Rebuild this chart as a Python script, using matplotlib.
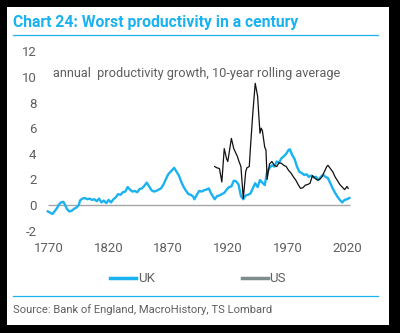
import matplotlib
matplotlib.use("Agg")
import matplotlib.pyplot as plt
from matplotlib.patches import Rectangle
from matplotlib.lines import Line2D

plt.rcParams['font.family'] = ['Roboto', 'DejaVu Sans']
plt.rcParams['axes.unicode_minus'] = False

# UK: annual productivity growth, 10-year rolling average
uk_years = [1769, 1771, 1773, 1775, 1777, 1778, 1780, 1782, 1783, 1785, 1787, 1789,
            1791, 1793, 1795, 1796, 1798, 1800, 1802, 1804, 1806, 1808, 1810, 1812,
            1814, 1816, 1818, 1820, 1822, 1824, 1826, 1828, 1830, 1832, 1834, 1836,
            1838, 1840, 1842, 1844, 1846, 1848, 1850, 1852, 1854, 1856, 1858, 1860,
            1862, 1864, 1866, 1868, 1870, 1872, 1874, 1875, 1877, 1879, 1881, 1883,
            1885, 1887, 1889, 1891, 1892, 1894, 1896, 1898, 1900, 1902, 1904, 1906,
            1908, 1909, 1911, 1913, 1915, 1917, 1919, 1921, 1923, 1925, 1927, 1929,
            1931, 1933, 1935, 1937, 1939, 1941, 1943, 1945, 1947, 1949, 1951, 1953,
            1955, 1957, 1959, 1961, 1963, 1965, 1967, 1969, 1971, 1972, 1974, 1976,
            1978, 1980, 1982, 1984, 1986, 1988, 1990, 1992, 1994, 1996, 1998, 2000,
            2002, 2004, 2006, 2008, 2010, 2012, 2014, 2016, 2018, 2020, 2022]
uk_vals = [-0.5, -0.6, -0.7, -0.45, -0.2, 0.0, 0.2, 0.25, 0.1, -0.3, -0.5, -0.45,
           -0.3, -0.2, 0.0, 0.35, 0.5, 0.55, 0.45, 0.5, 0.4, 0.45, 0.3, 0.5,
           0.2, 0.35, 0.15, 0.4, 0.2, 0.45, 0.6, 0.85, 0.8, 1.0, 1.05, 1.4,
           1.2, 1.05, 1.1, 1.0, 1.25, 1.3, 1.5, 1.75, 1.45, 1.15, 1.05, 1.1,
           1.2, 1.3, 1.6, 2.0, 2.4, 2.6, 2.8, 2.9, 2.6, 2.3, 1.8, 1.4,
           1.1, 0.85, 0.8, 0.65, 0.45, 0.8, 1.1, 1.05, 1.15, 1.2, 1.3, 0.9,
           0.6, 0.45, 0.7, 0.75, 0.85, 0.95, 1.2, 1.4, 1.45, 1.9, 1.85, 1.6,
           0.7, 0.45, 0.75, 0.8, 0.9, 1.3, 1.7, 1.4, 1.95, 1.75, 1.55, 2.6,
           2.9, 3.1, 3.0, 3.4, 3.3, 3.65, 3.8, 4.0, 4.3, 4.35, 3.9, 3.6,
           3.0, 2.6, 2.5, 2.35, 2.4, 2.2, 2.3, 2.15, 2.2, 1.95, 2.2, 2.35,
           2.2, 2.1, 1.7, 1.3, 0.95, 0.65, 0.4, 0.2, 0.4, 0.45, 0.55]

# US
us_years = [1909, 1911, 1913, 1915, 1917, 1919, 1920, 1922, 1923, 1925, 1926, 1928,
            1929, 1931, 1933, 1935, 1936, 1938, 1939, 1941, 1943, 1945, 1946, 1947,
            1948, 1949, 1951, 1952, 1953, 1955, 1957, 1959, 1961, 1963, 1965, 1967,
            1969, 1971, 1973, 1975, 1977, 1979, 1981, 1983, 1985, 1987, 1989, 1991,
            1993, 1995, 1997, 1999, 2001, 2003, 2004, 2006, 2008, 2010, 2012, 2014,
            2016, 2018, 2020, 2021]
us_vals = [3.0, 2.9, 2.85, 1.8, 4.4, 3.6, 3.4, 4.6, 5.2, 4.4, 4.2, 3.8,
           3.5, 3.0, 0.5, 2.6, 2.9, 3.0, 4.5, 7.2, 9.5, 8.5, 7.0, 5.6,
           6.0, 5.8, 4.5, 4.3, 2.0, 3.2, 3.4, 3.1, 3.0, 3.3, 3.25, 3.1,
           3.0, 2.7, 2.5, 2.2, 1.95, 1.6, 1.3, 1.35, 1.55, 1.6, 1.7, 2.3,
           2.1, 1.95, 2.0, 2.2, 2.6, 3.0, 3.1, 2.85, 2.6, 2.2, 1.9, 1.6,
           1.4, 1.2, 1.45, 1.3]

x_ticks = [1770, 1820, 1870, 1920, 1970, 2020]
y_ticks = [-2, 0, 2, 4, 6, 8, 10, 12]

BLUE = '#1AB2F0'
GREY = '#5f5f5f'

W, H = 400, 333
fig = plt.figure(figsize=(4, 3.33), dpi=100)
fig.patch.set_facecolor('black')
fig.add_artist(Rectangle((7 / W, 1 - 325 / H), 382 / W, 318 / H, zorder=-5,
                         transform=fig.transFigure, facecolor='white', edgecolor='none'))

# title + rules
fig.text(13 / W, 1 - 22 / H, 'Chart 24: Worst productivity in a century', color=BLUE,
         fontsize=11.35, fontweight='bold', va='center', ha='left')
fig.add_artist(Line2D([13 / W, 378 / W], [1 - 35 / H, 1 - 35 / H], color=BLUE, lw=0.9))
fig.add_artist(Line2D([13 / W, 378 / W], [1 - 296 / H, 1 - 296 / H], color=BLUE, lw=0.9))
fig.text(13 / W, 1 - 310 / H, 'Source: Bank of England, MacroHistory, TS Lombard',
         color=GREY, fontsize=8.1, va='center', ha='left')

# axes: px 40..360 horizontally, 50..235 vertically
ax = fig.add_axes([40 / W, 1 - 235 / H, 320 / W, 185 / H])
ax.set_facecolor('none')
ax.set_xlim(1762.45, 2030.9)
ax.set_ylim(-2.34, 12.1)
for s in ax.spines.values():
    s.set_visible(False)
ax.set_xticks(x_ticks)
ax.set_yticks(y_ticks)
ax.tick_params(length=0, labelsize=9.5, labelcolor=GREY)
ax.tick_params(axis='y', pad=2.5)
ax.tick_params(axis='x', pad=5)

ax.hlines(0, 1769, 2022.5, color='#a6a6a6', lw=1)
ax.plot(uk_years, uk_vals, color=BLUE, lw=1.7, label='UK')
ax.plot(us_years, us_vals, color='#111111', lw=0.9, label='US')

ax.text(1773, 10.3, 'annual  productivity growth, 10-year rolling average',
        color=GREY, fontsize=9.2, va='center', ha='left')

handles = [Line2D([], [], color=BLUE, lw=2.5), Line2D([], [], color='#7f8c8d', lw=2.5)]
fig.legend(handles, ['UK', 'US'], loc='center', bbox_to_anchor=(198 / W, 1 - 279 / H),
           ncol=2, frameon=False, fontsize=9.5, handlelength=2.0, handletextpad=0.1,
           columnspacing=6.6, labelcolor=GREY)

fig.savefig('out.png', dpi=100, facecolor=fig.get_facecolor())
